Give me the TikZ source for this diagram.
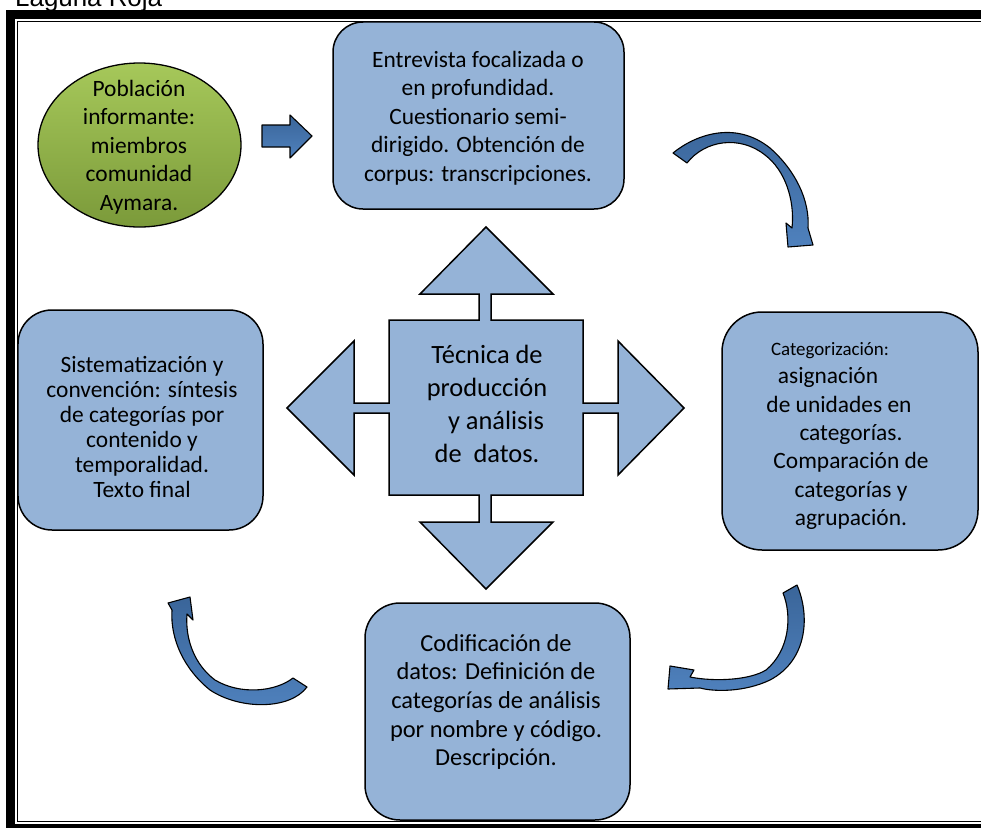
\documentclass[tikz,border=0pt]{standalone}
\usepackage{fontspec}
\setmainfont{Carlito}
\newfontfamily\arialf{Liberation Sans}
\usetikzlibrary{shapes.geometric}
\definecolor{boxblue}{HTML}{95B3D7}
\definecolor{arrowblue}{HTML}{4F81BD}
\definecolor{arrowdark}{HTML}{3A6599}
\definecolor{greentop}{HTML}{A6C85A}
\definecolor{greenbot}{HTML}{7B9A3A}
\begin{document}
\begin{tikzpicture}[x=1bp,y=-1bp,
  box/.style={draw=black,line width=1.5bp,fill=boxblue,rectangle,inner sep=0pt},
  txt/.style={align=center,inner sep=0pt,text=black,font=\fontsize{23.5}{28.5}\selectfont},
  curv/.style={draw=black,line width=1.1bp,top color=arrowdark,bottom color=arrowblue,line join=round}]
\useasboundingbox (0,0) rectangle (981,828);
% frame
\fill[black] (6,10) rectangle (990,19);
\fill[black] (6,10) rectangle (15,835);
\fill[black] (6,824) rectangle (990,835);
\draw[line width=1.3bp] (990,21.3) -- (17.5,21.3) -- (17.5,821.5) -- (990,821.5);
\node[anchor=base west,inner sep=0pt,font=\arialf\fontsize{26}{30}\selectfont] (title) at (15,6) {Laguna Roja};

% ellipse
\node[draw=black,line width=1.3bp,ellipse,minimum width=203bp,minimum height=164bp,
      top color=greentop,bottom color=greenbot,inner sep=0pt] (pob) at (139.5,145) {};
\node[txt] (pobt) at (139,147) {Población\\informante:\\miembros\\comunidad\\Aymara.};

% straight arrow
\draw[draw=black,line width=1.1bp,top color=arrowdark,bottom color=arrowblue,line join=round]
  (262,125) -- (290,125) -- (290,115) -- (312,136) -- (290,158) -- (290,147) -- (262,147) -- cycle;

% boxes
\node[box,rounded corners=30bp,minimum width=291bp,minimum height=187bp] (entrev) at (478.5,115.5) {};
\node[txt] (entrevt) at (478,118) {Entrevista focalizada o\\en profundidad.\\Cuestionario semi-\\dirigido. Obtención de\\corpus: transcripciones.};

\node[box,rounded corners=34bp,minimum width=245bp,minimum height=220bp] (sist) at (140.5,420) {};
\node[txt,font=\fontsize{23.5}{25}\selectfont] (sistt) at (142,427) {Sistematización y\\convención: síntesis\\de categorías por\\contenido y\\temporalidad.\\Texto final};

\node[box,rounded corners=40bp,minimum width=256bp,minimum height=238bp] (categ) at (850,431) {};
\node[txt] (categt) at (851,436) {\hspace*{-42bp}{\fontsize{19}{28.5}\selectfont Categorización:}\\\hspace*{-46bp}asignación\\\hspace*{-24bp}de unidades en\\categorías.\\Comparación de\\categorías y\\agrupación.};

\node[box,rounded corners=35bp,minimum width=265bp,minimum height=217bp] (codif) at (497.5,711.5) {};
\node[txt,font=\fontsize{24.5}{28.7}\selectfont] (codift) at (496,702) {Codificación de\\datos: Definición de\\categorías de análisis\\por nombre y código.\\Descripción.};

% centre four-way arrow
\draw[box,line join=miter]
  (486,227) -- (553,294) -- (491,294) -- (491,320) -- (583,320) -- (583,403) -- (618,403) -- (618,341)
  -- (684,408) -- (618,475) -- (618,413) -- (583,413) -- (583,495) -- (491,495) -- (491,522) -- (553,522)
  -- (486,589) -- (420,522) -- (479,522) -- (479,495) -- (389,495) -- (389,413) -- (354,413) -- (354,475)
  -- (287,408) -- (354,341) -- (354,403) -- (389,403) -- (389,320) -- (479,320) -- (479,294) -- (420,294) -- cycle;
\node[txt,font=\fontsize{26.5}{33}\selectfont] (tec) at (487,404) {Técnica de\\producción\\\ \ \ y análisis\\de\ \ datos.};

% curved arrows
\draw[curv] (673,153) .. controls (695,135) and (735,120) .. (770,148)
  .. controls (795,170) and (810,200) .. (808,228) -- (813,245) -- (788,247) -- (786,223) -- (792,228)
  .. controls (795,200) and (785,170) .. (765,155)
  .. controls (740,135) and (705,140) .. (687,163) -- cycle;

\draw[curv] (797,585) .. controls (810,615) and (808,660) .. (770,680)
  .. controls (745,692) and (715,692) .. (700,688) -- (668,689) -- (670,666) -- (694,670) -- (690,677)
  .. controls (715,682) and (750,680) .. (766,670)
  .. controls (790,650) and (792,615) .. (783,593) -- cycle;

\draw[curv] (307,687) .. controls (290,710) and (240,710) .. (210,690)
  .. controls (185,670) and (170,640) .. (172,610) -- (168,603) -- (190,597) -- (193,620) -- (187,614)
  .. controls (185,640) and (195,665) .. (215,680)
  .. controls (240,695) and (275,692) .. (293,678) -- cycle;
\end{tikzpicture}
\end{document}
